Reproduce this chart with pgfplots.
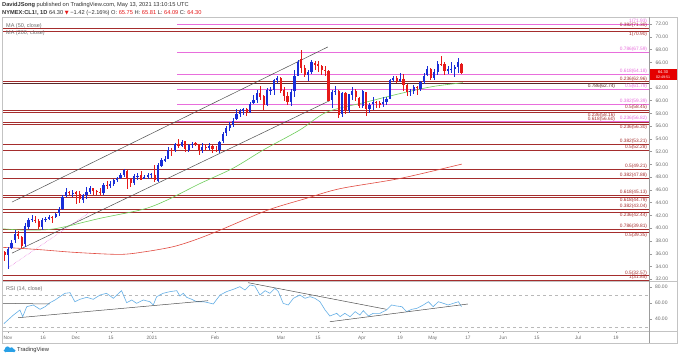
\documentclass[border=0pt]{standalone}
\usepackage{pgfplots}
\pgfplotsset{compat=1.18}
\usepackage{pgfplotstable}
\usepackage{fontspec}
\setmainfont{Liberation Sans}
\newfontfamily\symfont{DejaVu Sans}
\newcommand\fs[1]{\fontsize{#1}{#1}\selectfont}
\definecolor{upc}{RGB}{25,45,215}
\definecolor{dnc}{RGB}{230,25,25}
\definecolor{fibp}{RGB}{232,110,220}
\definecolor{fibr}{RGB}{165,45,45}
\definecolor{fibk}{RGB}{90,40,40}
\definecolor{ma50}{RGB}{110,205,90}
\definecolor{ma200}{RGB}{225,75,65}
\definecolor{rsic}{RGB}{100,175,230}
\definecolor{chan}{RGB}{80,80,80}
\definecolor{axt}{RGB}{110,110,110}
\definecolor{frm}{RGB}{195,195,195}
\definecolor{hdr}{RGB}{50,50,50}
\definecolor{tvblue}{RGB}{40,160,230}

\pgfplotstableread{
i o h l c
0 35.79 37.05 33.64 36.81
1 36.86 38.15 36.68 37.66
2 38.10 39.78 37.70 39.15
5 37.55 40.77 37.05 40.29
6 40.13 41.64 39.86 41.36
7 41.40 42.09 41.04 41.45
10 40.17 41.53 39.76 41.34
11 41.30 41.68 40.94 41.43
12 41.48 42.09 41.25 41.82
14 41.71 42.44 41.67 42.15
15 42.36 43.35 41.94 43.06
16 43.05 45.21 42.93 44.91
17 45.08 46.26 44.82 45.71
19 45.48 45.93 44.95 45.53
22 44.44 45.41 43.92 45.28
23 45.21 46.45 44.55 45.64
24 45.68 46.68 45.32 46.26
28 45.50 47.05 45.25 46.78
30 46.62 47.46 46.30 46.99
31 46.93 47.74 46.62 47.62
32 47.63 48.05 47.25 47.82
33 47.93 48.59 47.76 48.36
34 48.35 49.28 47.98 49.10
37 47.08 48.45 46.81 48.12
38 48.11 48.58 47.55 48.23
40 47.71 48.35 47.64 48.00
41 48.06 48.58 47.74 48.40
42 48.40 48.58 47.80 48.52
44 47.40 50.20 47.26 49.93
45 49.82 50.94 49.52 50.63
46 50.52 51.28 50.40 50.83
47 50.91 52.75 50.81 52.24
49 52.18 53.40 51.87 53.21
51 52.91 53.85 52.68 53.57
53 52.20 53.16 52.00 52.98
54 53.04 53.58 52.55 53.24
57 52.23 53.30 51.80 52.77
59 52.63 53.31 52.24 52.85
62 52.23 53.73 51.76 53.55
63 53.63 55.08 53.31 54.76
64 54.87 55.95 54.48 55.69
65 55.75 56.58 55.30 56.23
66 56.23 57.29 55.92 56.85
67 57.14 58.62 56.98 57.97
68 57.85 58.75 57.50 58.36
69 58.39 58.91 57.73 58.68
71 58.25 59.82 57.98 59.47
72 59.60 60.95 59.43 60.05
73 60.10 61.65 59.60 61.14
76 59.23 61.94 59.16 61.70
77 61.64 62.18 60.88 61.67
78 61.63 63.40 60.95 63.22
79 63.25 63.81 62.74 63.53
83 59.77 61.75 59.18 61.28
84 61.49 64.86 60.63 63.83
85 63.88 66.40 63.81 66.09
88 64.01 64.78 63.14 64.44
89 64.51 66.40 64.20 66.02
95 60.03 61.62 58.90 61.42
96 61.46 62.29 60.92 61.55
98 57.90 61.39 57.50 61.18
100 58.55 61.03 58.11 60.97
101 60.91 62.17 60.12 61.56
104 59.19 61.64 58.89 61.45
106 58.72 59.64 58.10 59.33
107 59.39 60.51 58.50 59.77
110 59.40 60.62 59.07 59.70
111 59.70 60.49 59.34 60.18
112 60.26 63.33 60.18 63.15
113 63.20 63.81 62.85 63.46
115 63.10 64.25 62.89 63.38
118 61.27 61.85 60.73 61.43
119 61.46 62.41 61.10 62.14
121 61.88 63.13 61.56 62.94
122 62.98 64.27 62.56 63.86
123 63.94 65.47 63.87 65.01
125 63.60 64.95 63.30 64.49
126 64.53 66.18 64.01 65.69
129 64.68 65.37 64.14 64.90
130 64.89 65.98 64.32 64.92
131 64.92 65.62 63.72 65.28
132 65.30 66.66 64.32 66.08
}\upc

\pgfplotstableread{
i o h l c
-1 36.20 36.50 34.92 35.79
3 39.15 39.55 38.27 38.79
4 38.68 38.83 36.96 37.14
8 41.36 41.93 40.82 41.12
9 41.10 41.42 39.85 40.13
13 41.80 41.96 40.74 41.74
18 45.70 45.90 45.20 45.45
20 45.62 45.76 43.73 45.34
21 45.36 45.87 43.93 44.55
25 46.30 46.37 45.25 45.76
26 45.78 46.04 45.25 45.60
27 45.62 46.25 45.00 45.52
29 46.84 47.34 46.10 46.57
35 49.00 49.07 46.16 47.74
36 47.70 47.87 46.53 47.02
39 48.39 48.96 47.50 47.62
43 48.40 49.83 47.18 47.62
48 52.27 52.60 51.28 52.25
50 53.25 53.93 52.60 52.91
52 53.59 53.63 51.93 52.36
55 53.29 53.55 52.85 53.13
56 53.15 53.18 51.44 52.27
58 52.70 53.16 52.10 52.61
60 52.90 53.00 51.76 52.34
61 52.28 52.90 51.92 52.20
70 58.68 58.83 57.58 58.24
74 61.13 62.26 60.16 60.52
75 60.72 60.80 58.60 59.24
80 63.50 63.64 61.24 61.50
81 61.66 62.15 59.93 60.64
82 60.72 61.36 59.38 59.75
86 66.45 67.98 64.38 65.05
87 65.11 65.52 63.65 64.01
90 65.92 66.23 64.86 65.61
91 65.68 66.19 64.41 65.39
92 65.38 65.56 63.95 64.80
93 64.75 65.47 63.80 64.60
94 64.68 64.84 59.96 60.00
97 61.55 61.60 57.32 57.76
99 61.23 61.34 57.89 58.56
102 61.49 61.74 59.91 60.55
103 60.48 60.52 58.86 59.16
105 61.30 61.40 57.63 58.65
108 59.85 60.00 58.85 59.60
109 59.57 59.99 58.82 59.32
114 63.47 63.79 62.80 63.13
116 63.40 64.10 61.54 62.44
117 62.39 62.61 60.73 61.35
120 62.10 62.28 60.88 61.91
124 64.99 65.07 63.23 63.58
127 65.75 67.01 65.37 65.63
128 65.67 65.99 64.03 64.71
133 65.75 65.81 64.09 64.30
}\dnc

% colour, x start, price, label, label x, label anchor
\newcommand\fib[6]{%
  \addplot[#1, line width=0.55pt, forget plot] coordinates {(#2,#3) (188,#3)};
  \node[anchor=#6, inner sep=0.35pt, font=\fs{4.8}, text=#1] at (axis cs:#5,#3) {#4};}

\begin{document}
\begin{tikzpicture}[x=1pt,y=1pt]
\useasboundingbox (0,0) rectangle (679,358);
\fill[white] (0,0) rectangle (679,358);

% main price panel
\begin{axis}[
  at={(3pt,77pt)}, anchor=south west, scale only axis,
  width=646pt, height=263pt,
  xmin=-1.47, xmax=188, ymin=31.73, ymax=72.94,
  axis line style={draw=none},
  xtick=\empty,
  ytick={32,34,36,38,40,42,44,46,48,50,52,54,56,58,60,62,66,68,70,72},
  ytick pos=right, yticklabel pos=right,
  tick align=outside, major tick length=3pt,
  tick style={axt!70, line width=0.4pt},
  /pgf/number format/assume math mode=true,
  yticklabel style={font=\fs{5}, text=axt, anchor=west},
  yticklabel={\pgfmathprintnumber[fixed,fixed zerofill,precision=2]{\tick}},
  clip=true,
]
\fib{fibp}{49.6}{71.93}{1(71.93)}{187.6}{south east}
\fib{fibr}{-1.5}{71.30}{0.382(71.30)}{187.6}{south east}
\fib{fibr}{-1.5}{70.90}{1(70.90)}{187.6}{north east}
\fib{fibp}{49.6}{67.59}{0.786(67.59)}{187.6}{south east}
\fib{fibp}{49.6}{64.18}{0.618(64.18)}{187.6}{south east}
\fib{fibr}{-1.5}{62.96}{0.236(62.96)}{187.6}{south east}
\fib{fibk}{-1.5}{62.74}{0.786(62.74)}{178.2}{north east}
\fib{fibp}{49.6}{61.79}{0.5(61.79)}{187.6}{south east}
\fib{fibp}{49.6}{59.39}{0.382(59.39)}{187.6}{south east}
\fib{fibr}{-1.5}{58.45}{0.5(58.45)}{187.6}{south east}
\fib{fibr}{-1.5}{58.16}{0.236(58.16)}{178.2}{north east}
\fib{fibp}{49.6}{56.82}{0.236(56.82)}{187.6}{south east}
\fib{fibr}{-1.5}{56.60}{0.618(56.60)}{178.2}{south east}
\fib{fibr}{-1.5}{56.30}{0.236(56.30)}{187.6}{north east}
\fib{fibr}{-1.5}{53.21}{0.382(53.21)}{187.6}{south east}
\fib{fibr}{-1.5}{52.28}{0.5(52.28)}{187.6}{south east}
\fib{fibr}{-1.5}{49.21}{0.5(49.21)}{187.6}{south east}
\fib{fibr}{-1.5}{47.88}{0.382(47.88)}{187.6}{south east}
\fib{fibr}{-1.5}{45.13}{0.618(45.13)}{187.6}{south east}
\fib{fibr}{-1.5}{44.79}{0.618(44.79)}{187.6}{north east}
\fib{fibr}{-1.5}{43.04}{0.382(43.04)}{187.6}{south east}
\fib{fibr}{-1.5}{42.44}{0.236(42.44)}{187.6}{north east}
\fib{fibr}{-1.5}{39.81}{0.786(39.81)}{187.6}{south east}
\fib{fibr}{-1.5}{39.35}{0.5(39.35)}{187.6}{north east}
\fib{fibr}{-1.5}{32.57}{0.5(32.57)}{187.6}{south east}
\fib{fibr}{-1.5}{31.85}{1(31.85)}{187.6}{south east}

% channel
\addplot[chan, line width=0.5pt, forget plot] coordinates {(1.17,44.1) (93.8,68.4)};
\addplot[chan, line width=0.5pt, forget plot] coordinates {(1.17,36.1) (94.4,60.0)};
\addplot[fibp, densely dotted, line width=0.5pt, forget plot] coordinates {(0,33.8) (24,42.5)};

% moving averages
\addplot[ma200, line width=0.6pt, smooth, tension=0.5, forget plot] coordinates {
(-1.5,37.0) (5,36.8) (10.3,36.6) (20,36.2) (32.8,35.9) (40,36.3) (48.4,37.1)
(55,38.2) (62.2,39.7) (76,42.8) (87,44.6) (97.4,46.2) (115,47.8) (133.1,50.05)};
\addplot[ma50, line width=0.6pt, smooth, tension=0.5, forget plot] coordinates {
(-1.5,39.9) (5,39.7) (12,39.8) (17.3,40.3) (27,41.55) (39.6,42.96) (46.6,44.4)
(56.3,47.0) (66,49.4) (75,52.3) (85.6,55.4) (93.5,58.2) (105.3,59.8) (115,61.1)
(124.6,62.2) (133.4,62.8)};

% candles: wicks and bodies
\addplot[draw=none, mark=none, forget plot, error bars/.cd, y dir=both, y explicit,
  error mark=none, error bar style={draw=upc, line width=0.6pt}]
  table[x=i, y=c, y error plus expr=\thisrow{h}-\thisrow{c}, y error minus expr=\thisrow{c}-\thisrow{l}] {\upc};
\addplot[draw=none, mark=none, forget plot, error bars/.cd, y dir=minus, y explicit,
  error mark=none, error bar style={draw=upc, line width=2.2pt}]
  table[x=i, y=c, y error minus expr=\thisrow{c}-\thisrow{o}] {\upc};
\addplot[draw=none, mark=none, forget plot, error bars/.cd, y dir=both, y explicit,
  error mark=none, error bar style={draw=dnc, line width=0.6pt}]
  table[x=i, y=o, y error plus expr=\thisrow{h}-\thisrow{o}, y error minus expr=\thisrow{o}-\thisrow{l}] {\dnc};
\addplot[draw=none, mark=none, forget plot, error bars/.cd, y dir=minus, y explicit,
  error mark=none, error bar style={draw=dnc, line width=2.2pt}]
  table[x=i, y=o, y error minus expr=\thisrow{o}-\thisrow{c}] {\dnc};
\end{axis}

% RSI panel
\begin{axis}[
  at={(3pt,27pt)}, anchor=south west, scale only axis,
  width=646pt, height=49pt,
  xmin=-1.47, xmax=188, ymin=25, ymax=86.25,
  axis line style={draw=none},
  xtick={0,10.3,19.9,30.2,42.2,60.7,80.1,90.9,103.8,115,124.6,134.9,145.2,155.1,167.2,178.3},
  xticklabels={Nov,16,Dec,15,2021,Feb,Mar,15,Apr,19,May,17,Jun,15,Jul,19},
  xtick pos=left,
  ytick={40,60,80},
  ytick pos=right, yticklabel pos=right,
  tick align=outside, major tick length=2.5pt,
  tick style={axt!70, line width=0.4pt},
  /pgf/number format/assume math mode=true,
  yticklabel style={font=\fs{5}, text=axt, anchor=west},
  yticklabel={\pgfmathprintnumber[fixed,fixed zerofill,precision=2]{\tick}},
  xticklabel style={font=\fs{4.8}, text=axt, yshift=1pt},
  clip=true,
]
\addplot[gray!55, dashed, line width=0.4pt, forget plot] coordinates {(-1.47,70) (188,70)};
\addplot[gray!55, dashed, line width=0.4pt, forget plot] coordinates {(-1.47,30) (188,30)};
\addplot[rsic, line width=0.6pt, forget plot] coordinates {
(-1.2,34) (-0.9,35.4) (1.6,45) (3.5,51.25) (4.3,42.9) (5.5,55.4) (7.4,57.5) (9.4,52.1)
(10.9,55.4) (12.3,60.4) (13.8,63.75) (15.2,67.9) (16.7,72.1) (18.2,72.9) (19.6,61.6)
(21.1,64.6) (23.1,67.1) (25,64.6) (27,70) (28.9,72.1) (30.9,65.9) (33.3,75.4)
(34.8,60.4) (36.3,63.75) (37.7,59.6) (39.7,63.75) (41.6,61.6) (42.6,57.5) (43.6,67.9)
(45.5,72.1) (47.5,74.2) (49.5,75.4) (50.4,68.75) (51.4,72.1) (52.4,67.1) (53.9,64.6)
(55.3,61.6) (57.3,61.6) (58.7,60.4) (60.2,58.75) (62.2,70) (64.1,74.2) (66.1,77.1)
(68,80.4) (69.5,76.25) (71,82.5) (72.4,81.25) (73.9,70) (75.4,75.4) (76.8,72.1)
(78.3,78.3) (79.3,74.2) (80.7,59.6) (82.2,57.5) (83.7,65.9) (85.6,70) (87.1,65.9)
(88.6,67.9) (90,65.9) (91.5,61.6) (93,51.25) (94.4,43.75) (96.4,47.1) (97.4,43)
(98.8,47.1) (100.3,42.9) (101.8,49.2) (103.2,45) (104.2,50.4) (105.7,43.75)
(107.1,47.1) (109.1,47.1) (111,51.25) (112.5,57.5) (114,56.25) (115.5,55.4)
(116.9,49.2) (118.4,52.1) (119.9,53.3) (121.8,57.5) (123.3,61.6) (124.7,55.4)
(126.2,61.6) (127.7,59.6) (129.1,57.5) (130.6,59.6) (132.1,61.6) (133,55.4)};
\addplot[chan, line width=0.5pt, forget plot] coordinates {(-1.4,59.6) (12.3,58.75)};
\addplot[chan, line width=0.5pt, forget plot] coordinates {(3.0,41.6) (58.7,62.9)};
\addplot[chan, line width=0.5pt, forget plot] coordinates {(70.4,85.4) (111,52.1)};
\addplot[chan, line width=0.5pt, forget plot] coordinates {(94.4,36.6) (134.9,58.75)};
\end{axis}

% frame
\draw[frm, line width=0.5pt] (2,15) rectangle (677,340.5);
\draw[frm, line width=0.5pt] (2,76.5) -- (677,76.5);
\draw[frm, line width=0.5pt] (2,27) -- (677,27);
\draw[frm!80!black, line width=0.5pt] (649,15) -- (649,340.5);

% legends
\node[anchor=west, inner sep=0, font=\fs{5.5}, text=axt] at (6,332) {MA (50, close)};
\node[anchor=west, inner sep=0, font=\fs{5.5}, text=axt] at (6,325) {MA (200, close)};
\node[anchor=west, inner sep=0, font=\fs{5.5}, text=axt] at (6,69) {RSI (14, close)};

% price tag
\fill[red!90!black] (650,277.5) rectangle (676.5,289);
\node[font=\fs{4}, text=white, inner sep=0] at (663,286) {64.30};
\node[font=\fs{3.6}, text=white, inner sep=0] at (663,280.5) {02:49:51};

% header
\node[anchor=west, inner sep=0, font=\fs{5.7}, text=hdr] at (2,352.5)
  {\textbf{DavidJSong} published on TradingView.com, May 13, 2021 13:10:15 UTC};
\node[anchor=west, inner sep=0, font=\fs{5.7}, text=hdr] at (2,344.5)
  {\textbf{NYMEX:CL1!, 1D} 64.30 {\color{dnc}\symfont\fs{5}▼} −1.42 (−2.16\%) O: {\color{dnc}65.75} H: {\color{dnc}65.81} L: {\color{dnc}64.09} C: {\color{dnc}64.30}};

% TradingView logo
\fill[tvblue] (5,5.5) rectangle (14,8.5);
\fill[tvblue] (7.5,9) circle (2.6);
\fill[tvblue] (11.5,8.5) circle (2.2);
\fill[tvblue] (5.5,7.5) circle (1.8);
\fill[tvblue] (14,7.3) circle (1.6);
\node[anchor=west, inner sep=0, font=\fs{5.8}, text=hdr] at (17,7.5) {TradingView};
\end{tikzpicture}
\end{document}
